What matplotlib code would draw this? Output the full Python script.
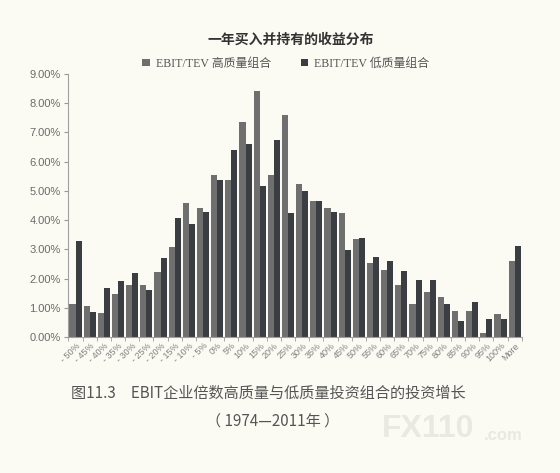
import matplotlib.pyplot as plt
import numpy as np

plt.rcParams['font.family'] = ['Liberation Sans', 'Noto Sans CJK SC', 'DejaVu Sans']
plt.rcParams['axes.unicode_minus'] = False

# 收益区间
categories = ['- 50%', '- 45%', '- 40%', '- 35%', '- 30%', '- 25%', '- 20%', '- 15%',
              '- 10%', '- 5%', '0%', '5%', '10%', '15%', '20%', '25%', '30%', '35%',
              '40%', '45%', '50%', '55%', '60%', '65%', '70%', '75%', '80%', '85%',
              '90%', '95%', '100%', 'More']
# 高质量组合
high_q = [1.13, 1.05, 0.81, 1.47, 1.78, 1.79, 2.22, 3.09, 4.58, 4.41, 5.54, 5.38,
          7.37, 8.42, 5.54, 7.59, 5.23, 4.65, 4.40, 4.25, 3.35, 2.54, 2.28, 1.77,
          1.12, 1.54, 1.37, 0.89, 0.89, 0.14, 0.79, 2.60]
# 低质量组合
low_q = [3.28, 0.87, 1.67, 1.90, 2.18, 1.61, 2.70, 4.08, 3.87, 4.28, 5.37, 6.40,
         6.61, 5.16, 6.75, 4.23, 5.01, 4.65, 4.28, 2.97, 3.39, 2.74, 2.60, 2.25,
         1.95, 1.95, 1.14, 0.55, 1.21, 0.63, 0.63, 3.12]

bg = '#fbfbf4'
fig = plt.figure(figsize=(5.6, 4.73), dpi=100, facecolor=bg)
ax = fig.add_axes([0.121, 0.2875, 0.812, 0.556], facecolor=bg)

x = np.arange(len(categories))
w = 0.43
ax.bar(x - w / 2, np.array(high_q) / 100, w, color='#6f6f6f', label='EBIT/TEV 高质量组合')
ax.bar(x + w / 2, np.array(low_q) / 100, w, color='#3a3e42', label='EBIT/TEV 低质量组合')

ax.set_xlim(-0.55, len(categories) - 0.45)
ax.set_ylim(0, 0.09)
ax.set_yticks(np.arange(0, 0.0901, 0.01))
ax.set_yticklabels([f'{v:.2f}%' for v in np.arange(0, 9.01, 1)], fontsize=8, color='#6a6a6a')
ax.set_xticks(x)
ax.set_xticklabels(categories, rotation=45, ha='right', rotation_mode='anchor',
                   fontsize=6.5, color='#808080')
ax.tick_params(axis='x', length=0, pad=3)
ax.set_xticks(np.arange(-0.5, len(categories), 1), minor=True)
ax.tick_params(axis='x', which='minor', length=3, color='#999999')
ax.tick_params(axis='y', length=3, color='#999999', pad=2)
for s in ['top', 'right']:
    ax.spines[s].set_visible(False)
for s in ['left', 'bottom']:
    ax.spines[s].set_color('#a0a0a0')
    ax.spines[s].set_linewidth(0.8)

fig.text(0.52, 0.915, '一年买入并持有的收益分布', ha='center', va='center',
         fontsize=10, color='#333333', family=['Noto Sans CJK SC'], weight='bold')
leg = fig.legend(loc='center', bbox_to_anchor=(0.51, 0.865), ncol=2, frameon=False,
                 handlelength=0.6, handleheight=0.6, handletextpad=0.5, columnspacing=2.5,
                 prop={'family': ['Liberation Serif', 'Noto Sans CJK SC'], 'size': 8.6})
for t in leg.get_texts():
    t.set_color('#555555')

fig.text(0.48, 0.169, '图11.3　EBIT企业倍数高质量与低质量投资组合的投资增长', ha='center',
         va='center', fontsize=10.9, color='#555555', family=['Noto Sans CJK SC'])
fig.text(0.487, 0.108, '（ 1974—2011年 ）', ha='center', va='center', fontsize=10.9,
         color='#555555', family=['Noto Sans CJK SC'])
# 水印
fig.text(0.765, 0.092, 'FX110', ha='center', va='center', fontsize=23, weight='bold',
         color='#e9e9e3')
fig.text(0.864, 0.08, '.com', ha='left', va='center', fontsize=12, weight='bold',
         color='#e9e9e3')

fig.savefig('out.png', dpi=100, facecolor=bg)
